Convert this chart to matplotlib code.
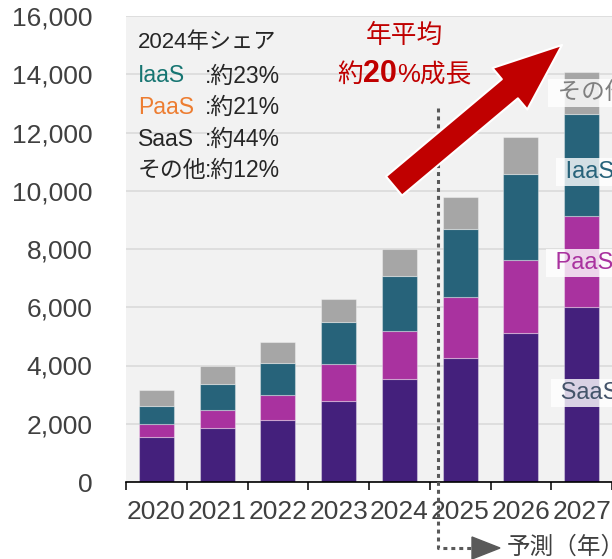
import matplotlib
matplotlib.use('Agg')
import matplotlib.pyplot as plt
import matplotlib.patches as mpatches
from matplotlib.lines import Line2D
from matplotlib.ticker import FuncFormatter
import numpy as np

plt.rcParams['font.family'] = ['Liberation Sans', 'Noto Sans CJK JP']

# market size per year, stacked (SaaS at the bottom)
years = ['2020', '2021', '2022', '2023', '2024', '2025', '2026', '2027']
saas = [1530, 1840, 2120, 2770, 3530, 4250, 5110, 6000]
paas = [470, 630, 870, 1295, 1640, 2085, 2520, 3120]
iaas = [620, 880, 1110, 1420, 1890, 2360, 2930, 3520]
other = [530, 640, 700, 815, 930, 1085, 1280, 1430]

# 2024 share box
share_names = ['IaaS', 'PaaS', 'SaaS', 'その他']
share_pct = [23, 21, 44, 12]
share_colors = ['#167572', '#ED7D31', '#262626', '#262626']

W, H = 612, 559
fig = plt.figure(figsize=(W / 100, H / 100), dpi=100)

def fx(x):
    return x / W

def fy(y):
    return 1 - y / H

# plot area: left edge 126px, baseline 482px, top 16px, runs off the right side
ax = fig.add_axes([fx(126), fy(482), 1 - fx(126), (482 - 16) / H])
ax.set_facecolor('#F2F2F2')

x = np.arange(len(years))
colors = {'SaaS': '#44207C', 'PaaS': '#A9329F', 'IaaS': '#27637A', 'other': '#A6A6A6'}
bottom = np.zeros(len(years))
for name, vals in [('SaaS', saas), ('PaaS', paas), ('IaaS', iaas), ('other', other)]:
    ax.bar(x, vals, 0.58, bottom=bottom, color=colors[name],
           edgecolor=(1, 1, 1, 0.35), linewidth=0.8, zorder=2)
    bottom += np.array(vals)

ax.set_xlim(-0.5, -0.5 + (W - 126) / 62.39)
ax.set_ylim(0, 16000)
ax.set_yticks(np.arange(0, 16001, 2000))
ax.yaxis.set_major_formatter(FuncFormatter(lambda v, p: f'{v:,.0f}'))
ax.grid(axis='y', color='#D9D9D9', linewidth=1.1)
ax.set_axisbelow(True)

ax.set_xticks(x)
ax.set_xticklabels(years)
ax.set_xticks(np.arange(-0.5, len(years)), minor=True)
ax.tick_params(axis='x', which='major', length=0, pad=13, labelsize=19, labelcolor='#404040')
ax.tick_params(axis='x', which='minor', length=6, width=1.1, color='black')
ax.tick_params(axis='y', length=0, pad=24, labelsize=19, labelcolor='#404040')
for s in ['top', 'right', 'left']:
    ax.spines[s].set_visible(False)
ax.spines['bottom'].set_linewidth(1.2)

# series labels on the 2027 bar
box = dict(boxstyle='square,pad=0.12', fc='white', ec='none', alpha=0.8)
fig.text(fx(551), fy(93), ' その他', fontsize=17, color='#7F7F7F', va='center', bbox=box)
fig.text(fx(559), fy(172), ' IaaS', fontsize=17, color='#27637A', va='center', bbox=box)
fig.text(fx(549), fy(263), ' PaaS', fontsize=17, color='#A9329F', va='center', bbox=box)
fig.text(fx(554), fy(393), ' SaaS', fontsize=17, color='#44546A', va='center', bbox=box)

# 2024 share text block
fig.text(fx(138), fy(43), '2024年シェア', fontsize=16, color='#262626', va='center')
for i, (nm, pct, c) in enumerate(zip(share_names, share_pct, share_colors)):
    yy = fy(76 + i * 31.5)
    fig.text(fx(138), yy, nm, fontsize=16.5, color=c, va='center')
    fig.text(fx(205), yy, f':約{pct}%', fontsize=16.5, color='#262626', va='center')

# forecast divider
dots = dict(color='#595959', lw=2.2, linestyle=(0, (1.3, 1.3)))
fig.add_artist(Line2D([fx(437.5), fx(437.5), fx(472)], [fy(108), fy(548), fy(548)],
                      transform=fig.transFigure, **dots))
fig.add_artist(mpatches.Polygon([(fx(472), fy(537)), (fx(472), fy(559)), (fx(500), fy(548))],
                                closed=True, transform=fig.transFigure, color='#595959'))
fig.text(fx(507), fy(547), '予測（年）', fontsize=17, color='#404040', va='center')

# growth arrow
arrow = mpatches.FancyArrowPatch((fx(394), fy(186)), (fx(562), fy(45)),
                                 transform=fig.transFigure,
                                 arrowstyle=mpatches.ArrowStyle.Simple(head_length=49, head_width=39, tail_width=18),
                                 mutation_scale=1, shrinkA=0, shrinkB=0,
                                 fc='#C00000', ec='white', lw=1.5, zorder=5)
fig.add_artist(arrow)

red = '#C00000'
fig.text(fx(404), fy(36), '年平均', fontsize=18.5, color=red, ha='center', va='center')
t1 = fig.text(fx(337), fy(82), '約', fontsize=18.5, color=red, va='baseline')
t2 = ax.annotate('20', xy=(1, fy(82)), xycoords=(t1, 'figure fraction'),
                 fontsize=22, fontweight='bold', color=red, va='baseline')
t3 = ax.annotate('%成長', xy=(1, fy(82)), xycoords=(t2, 'figure fraction'),
                 fontsize=18.5, color=red, va='baseline', annotation_clip=False)

fig.savefig('out.png', dpi=100)
